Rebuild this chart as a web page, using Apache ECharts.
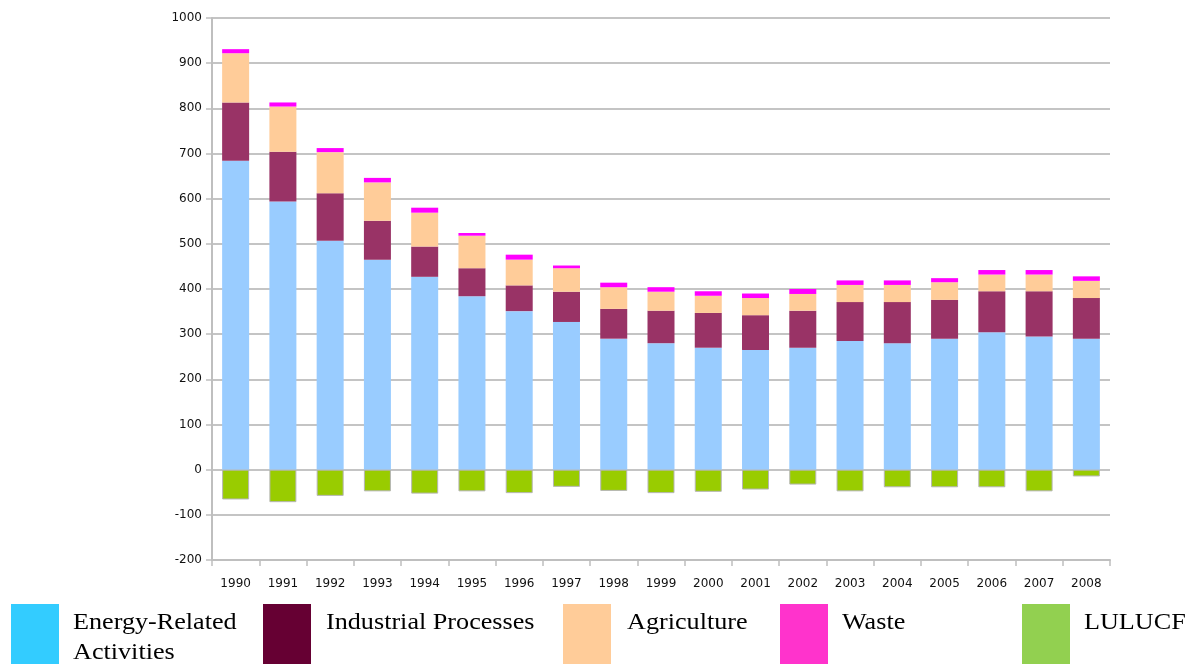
<!DOCTYPE html>
<html>
<head>
<meta charset="utf-8">
<title>Emissions by sector, 1990-2008</title>
<script src="https://cdn.jsdelivr.net/npm/echarts@6/dist/echarts.min.js"></script>
<style>
  html, body { margin: 0; padding: 0; background: #ffffff; }
  #chart { width: 1187px; height: 664px; }
</style>
</head>
<body>
<div id="chart"></div>
<script>
// Categories and sector values
const years = ['1990','1991','1992','1993','1994','1995','1996','1997','1998','1999',
               '2000','2001','2002','2003','2004','2005','2006','2007','2008'];
const energy      = [684, 594, 507, 465, 427, 384, 351, 327, 290, 280, 270, 265, 270, 285, 280, 290, 304, 295, 290];
const industrial  = [129, 110, 105, 86, 67, 62, 57, 67, 66, 72, 77, 77, 82, 86, 91, 86, 91, 100, 90];
const agriculture = [109, 100, 91, 85, 75, 72, 57, 52, 48, 42, 38, 38, 37, 38, 38, 39, 37, 37, 38];
const waste       = [9, 9, 9, 10, 11, 6, 11, 6, 10, 10, 10, 10, 11, 10, 10, 9, 10, 10, 10];
const lulucf      = [-66, -72, -58, -48, -53, -48, -52, -38, -47, -52, -49, -44, -33, -48, -39, -39, -39, -48, -15];
const yTicks      = { min: -200, max: 1000, step: 100 };
const legendNames = ['Energy-Related\nActivities', 'Industrial Processes', 'Agriculture', 'Waste', 'LULUCF'];

// Styling
const barColors    = ['#99CCFF', '#993366', '#FFCC99', '#FF00FF', '#99CC00'];
const legendColors = ['#33CCFF', '#660033', '#FFCC99', '#FF33CC', '#92D050'];
const legendBoxX   = [11, 263, 563, 780, 1022];
const legendTextX  = [73, 326, 627, 842, 1084];

const seriesData = [energy, industrial, agriculture, waste, lulucf];
const seriesNames = ['Energy-Related Activities', 'Industrial Processes', 'Agriculture', 'Waste', 'LULUCF'];

const series = seriesData.map((d, i) => ({
  name: seriesNames[i],
  type: 'bar',
  stack: 'total',
  data: d,
  barWidth: 27,
  itemStyle: i === 4
    ? { color: barColors[i], borderColor: '#b5b5b5', borderWidth: 1 }
    : { color: barColors[i] },
  emphasis: { disabled: true }
}));

const graphic = [];
legendNames.forEach((name, i) => {
  graphic.push({
    type: 'rect',
    x: legendBoxX[i], y: 604,
    shape: { width: 48, height: 60 },
    style: { fill: legendColors[i] },
    silent: true
  });
  graphic.push({
    type: 'text',
    x: legendTextX[i], y: 608,
    scaleX: 1.09,
    style: {
      text: name,
      font: '24px "Liberation Serif", "Times New Roman", serif',
      fill: '#000000',
      lineHeight: 30,
      verticalAlign: 'top',
      align: 'left'
    },
    silent: true
  });
});

const labelFont = '"DejaVu Sans", Verdana, sans-serif';

const chart = echarts.init(document.getElementById('chart'), null, { renderer: 'canvas' });
chart.setOption({
  animation: false,
  backgroundColor: '#ffffff',
  grid: { left: 212, right: 77, top: 18, bottom: 104, containLabel: false },
  xAxis: {
    type: 'category',
    data: years,
    position: 'bottom',
    axisLine: { onZero: false, lineStyle: { color: '#bfbfbf', width: 2 } },
    axisTick: { show: true, alignWithLabel: false, length: 6, lineStyle: { color: '#bfbfbf', width: 1.5 } },
    axisLabel: {
      margin: 18,
      color: '#111111',
      fontFamily: labelFont,
      fontSize: 12
    }
  },
  yAxis: {
    type: 'value',
    min: yTicks.min,
    max: yTicks.max,
    interval: yTicks.step,
    axisLine: { show: true, lineStyle: { color: '#bfbfbf', width: 2 } },
    axisTick: { show: true, length: 6, lineStyle: { color: '#bfbfbf', width: 1.5 } },
    splitLine: { show: true, lineStyle: { color: '#c4c4c4', width: 2 } },
    axisLabel: {
      margin: 10,
      color: '#111111',
      fontFamily: labelFont,
      fontSize: 12,
      formatter: v => String(v)
    }
  },
  legend: { show: false },
  tooltip: { show: false },
  series: series,
  graphic: graphic
});
</script>
</body>
</html>
